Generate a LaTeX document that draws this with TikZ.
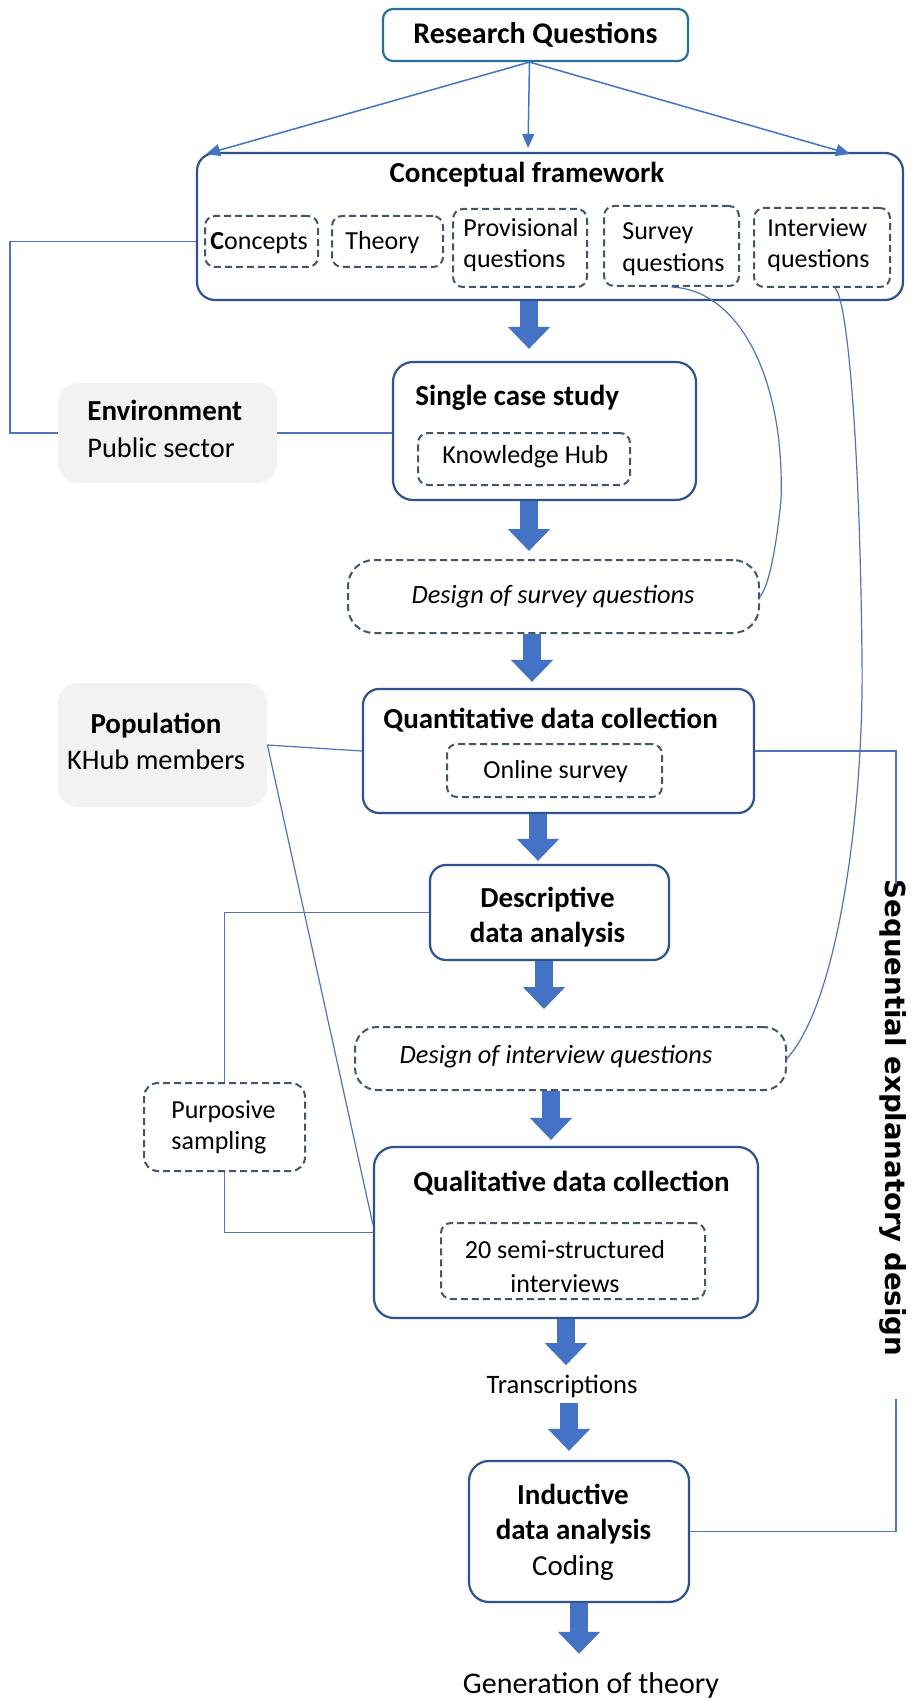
\documentclass[tikz,border=0pt]{standalone}
\usepackage{fontspec}
\setmainfont{Carlito}
\newfontfamily\seqfont{DejaVu Sans}
\usetikzlibrary{arrows.meta,calc}
\definecolor{boxblue}{RGB}{47,82,143}
\definecolor{rqteal}{RGB}{38,114,150}
\definecolor{arrowblue}{RGB}{68,114,196}
\definecolor{dashgray}{RGB}{68,84,106}
\definecolor{linecol}{RGB}{80,115,185}
\definecolor{graybg}{RGB}{242,242,242}
\begin{document}
\begin{tikzpicture}[x=0.5pt,y=-0.5pt,
  mainbox/.style={draw=boxblue, line width=1.1pt, rounded corners=8pt, inner sep=0pt},
  rqbox/.style={draw=rqteal, line width=1.1pt, rounded corners=5pt, inner sep=0pt},
  dbox/.style={draw=dashgray, line width=1pt, dash pattern=on 3.5pt off 2pt, rounded corners=5pt, inner sep=0pt},
  graybox/.style={fill=graybg, rounded corners=10pt, inner sep=0pt},
  fat/.style={draw=arrowblue, line width=9pt, -{Triangle[length=11pt,width=20.5pt]}},
  conn/.style={draw=linecol, line width=0.6pt},
  rqarrow/.style={draw=arrowblue, line width=0.75pt, -{Triangle[length=7pt,width=6pt]}},
  hd/.style={inner sep=0pt, font=\fontsize{14.5}{17}\selectfont\bfseries},
  tx/.style={inner sep=0pt, font=\fontsize{13}{16}\selectfont},
  it/.style={inner sep=0pt, font=\fontsize{13.2}{16}\selectfont\itshape},
  sd/.style={inner sep=0pt, font=\fontsize{14.2}{17}\selectfont}
]
\fill[white] (0,0) rectangle (912,1701);
\useasboundingbox (0,0) rectangle (912,1701);

% ---------- boxes ----------
\node[rqbox, minimum width=152.5pt, minimum height=26pt] (rq) at (535.5,35) {};
\node[mainbox, rounded corners=9pt, minimum width=353pt, minimum height=73.5pt] (cf) at (550,226.5) {};
\node[dbox, minimum width=56.5pt, minimum height=25.5pt] (concepts) at (261.5,241.5) {};
\node[dbox, minimum width=55.5pt, minimum height=25.5pt] (theory) at (387.5,241.5) {};
\node[dbox, minimum width=67pt, minimum height=39pt] (prov) at (520,248) {};
\node[dbox, minimum width=67.5pt, minimum height=40pt] (surv) at (671.5,246) {};
\node[dbox, minimum width=68pt, minimum height=39.5pt] (intv) at (822,247.5) {};

\node[graybox, minimum width=109.5pt, minimum height=50pt] (env) at (167.5,433) {};
\node[mainbox, rounded corners=10pt, minimum width=151.5pt, minimum height=69pt] (scs) at (544.5,431) {};
\node[dbox, minimum width=106pt, minimum height=26pt] (kh) at (524,459) {};

\node[dbox, rounded corners=13pt, minimum width=205.5pt, minimum height=36.5pt] (dsq) at (553.5,596.5) {};

\node[graybox, minimum width=104.5pt, minimum height=62pt] (pop) at (162.5,745) {};
\node[mainbox, minimum width=195.5pt, minimum height=62pt] (qdc) at (558.5,751) {};
\node[dbox, minimum width=107.5pt, minimum height=26.5pt] (os) at (554.5,770.5) {};

\node[mainbox, minimum width=119.5pt, minimum height=47.5pt] (desc) at (549.5,912.5) {};
\node[dbox, rounded corners=11pt, minimum width=215.5pt, minimum height=31.5pt] (diq) at (570.5,1058.5) {};
\node[dbox, rounded corners=7pt, minimum width=80.5pt, minimum height=44pt] (purp) at (224.5,1127) {};

\node[mainbox, rounded corners=10pt, minimum width=192pt, minimum height=85.5pt] (qlc) at (566,1232.5) {};
\node[dbox, minimum width=132pt, minimum height=38pt] (semi) at (573,1261) {};
\node[mainbox, rounded corners=10pt, minimum width=110pt, minimum height=70.5pt] (ind) at (579,1531.5) {};

% ---------- texts ----------
\node[hd, font=\fontsize{15}{17}\selectfont\bfseries, anchor=base] (rqt) at (535.5,44) {Research Questions};
\node[hd, anchor=base] (cft) at (527,183) {Conceptual framework};
\node[tx, anchor=base west] (tconc) at (210,250) {\textbf{C}oncepts};
\node[tx, anchor=base west] (ttheo) at (345,250) {Theory};
\node[tx, anchor=base west] (tprov1) at (463,237) {Provisional};
\node[tx, anchor=base west] (tprov2) at (463,268) {questions};
\node[tx, anchor=base west] (tsurv1) at (622,240) {Survey};
\node[tx, anchor=base west] (tsurv2) at (622,272) {questions};
\node[tx, anchor=base west] (tintv1) at (767,237) {Interview};
\node[tx, anchor=base west] (tintv2) at (767,268) {questions};

\node[hd, anchor=base west] (tenv1) at (87,420) {Environment};
\node[sd, anchor=base west] (tenv2) at (87,457) {Public sector};
\node[hd, anchor=base west] (tscs) at (415,405) {Single case study};
\node[tx, anchor=base west] (tkh) at (442,463) {Knowledge Hub};
\node[it, anchor=base] (tdsq) at (553,603) {Design of survey questions};

\node[hd, anchor=base] (tpop1) at (156,733) {Population};
\node[sd, anchor=base] (tpop2) at (156,769) {KHub members};
\node[hd, anchor=base west] (tqdc) at (383,728) {Quantitative data collection};
\node[tx, anchor=base west] (tos) at (483,778) {Online survey};

\node[hd, anchor=base] (tdesc1) at (547.5,907) {Descriptive};
\node[hd, anchor=base] (tdesc2) at (547.5,942) {data analysis};
\node[it, anchor=base] (tdiq) at (556,1063) {Design of interview questions};
\node[tx, anchor=base west] (tpurp1) at (171,1118) {Purposive};
\node[tx, anchor=base west] (tpurp2) at (171,1149) {sampling};

\node[hd, anchor=base] (tqlc) at (571.5,1191) {Qualitative data collection};
\node[tx, anchor=base] (tsemi1) at (565,1258) {20 semi-structured};
\node[tx, anchor=base] (tsemi2) at (565,1292) {interviews};
\node[tx, font=\fontsize{13.3}{16}\selectfont, anchor=base] (trans) at (562,1393) {Transcriptions};
\node[hd, anchor=base] (tind1) at (573,1504) {Inductive};
\node[hd, anchor=base] (tind2) at (573.5,1539) {data analysis};
\node[sd, font=\fontsize{14.5}{17}\selectfont, anchor=base] (tind3) at (573,1575) {Coding};
\node[tx, font=\fontsize{15}{17}\selectfont, anchor=base] (gen) at (591,1693) {Generation of theory};

\node[rotate=-90, inner sep=0pt, font=\seqfont\bfseries\fontsize{13.8}{16}\selectfont] (seq) at (893,1118) {Sequential explanatory design};

% ---------- RQ arrows ----------
\coordinate (cfL) at (206,154);
\coordinate (cfM) at (528,148);
\coordinate (cfR) at (850,154);
\draw[rqarrow] ([xshift=-3pt]rq.south) -- (cfL);
\draw[rqarrow] ([xshift=-3pt]rq.south) -- (cfM);
\draw[rqarrow] ([xshift=-3pt]rq.south) -- (cfR);

% ---------- fat arrows ----------
\coordinate (f1) at (529,0);
\coordinate (f2) at (529,0);
\coordinate (f3) at (532,0);
\coordinate (f4) at (538,0);
\coordinate (f5) at (544,0);
\coordinate (f6) at (551,0);
\coordinate (f7) at (566,0);
\coordinate (f8) at (569,0);
\coordinate (f9) at (579,0);
\draw[fat, shorten >=6pt] (f1 |- cf.south) -- (f1 |- scs.north);
\draw[fat, shorten >=4pt] (f2 |- scs.south) -- (f2 |- dsq.north);
\draw[fat, shorten >=3pt] (f3 |- dsq.south) -- (f3 |- qdc.north);
\draw[fat, shorten >=1.5pt] (f4 |- qdc.south) -- (f4 |- desc.north);
\draw[fat, shorten >=8.5pt] (f5 |- desc.south) -- (f5 |- diq.north);
\draw[fat, shorten >=3pt] (f6 |- diq.south) -- (f6 |- qlc.north);
\draw[fat, shorten >=4.5pt] (f7 |- qlc.south) -- (f7 |- trans.north);
\draw[fat, shorten <=2.5pt, shorten >=4.5pt] (f8 |- trans.south) -- (f8 |- ind.north);
\draw[fat, shorten >=9pt] (f9 |- ind.south) -- (f9 |- gen.north);

% ---------- thin connectors ----------
\coordinate (lx) at (10,0);
\draw[conn] (concepts.west -| cf.west) -| (lx |- env.west) -- (env.west);
\draw[conn] (env.east) -- (env.east -| scs.west);
\draw[conn] (pop.east) -- (qdc.west);
\draw[conn] (pop.east) -- ([yshift=4pt]qlc.west);
\draw[conn] (desc.west) -| (purp.north);
\draw[conn] (purp.south) |- (qlc.west);
\coordinate (seqT) at (896,884);
\coordinate (seqB) at (896,1399);
\draw[conn] (qdc.east) -| (seqT);
\draw[conn] (ind.east) -| (seqB);
\draw[conn] (surv.south) .. controls (740,290) and (785,380) .. (781,500)
  .. controls (777,540) and (770,585) .. (dsq.east);
\draw[conn] ([xshift=6.5pt]intv.south) .. controls (848,300) and (860,450) .. (862,660)
  .. controls (864,800) and (840,1000) .. (diq.east);
\end{tikzpicture}
\end{document}
